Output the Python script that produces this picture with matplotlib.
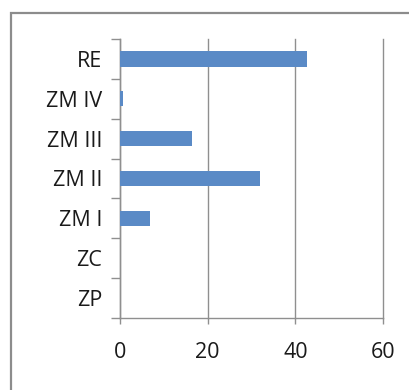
import matplotlib.pyplot as plt
from matplotlib.patches import Rectangle

# categories listed bottom to top
categories = ["ZP", "ZC", "ZM I", "ZM II", "ZM III", "ZM IV", "RE"]
values = [0, 0, 6.9, 32.0, 16.4, 0.6, 42.6]
x_ticks = [0, 20, 40, 60]

W, H = 409, 390
fig = plt.figure(figsize=(W / 100, H / 100), dpi=100)
plt.rcParams['font.family'] = ['Open Sans', 'DejaVu Sans']

# outer frame (only top and left edges visible)
fig.patches.append(Rectangle((11 / W, -0.1), 1.2, 1 - 13 / H + 0.1,
                             transform=fig.transFigure, fill=False,
                             edgecolor="#8c8c8c", linewidth=1.6))

ax = fig.add_axes([120 / W, 1 - 318 / H, (383 - 120) / W, (318 - 39) / H])
ypos = list(range(len(categories)))
ax.barh(ypos, values, height=0.38, color="#5a8ac6", edgecolor="none",
        zorder=3)

ax.set_xlim(0, 60)
ax.set_ylim(-0.5, len(categories) - 0.5)
ax.set_xticks(x_ticks)
ax.set_yticks(ypos)
ax.set_yticklabels(categories)
ax.set_yticks([i - 0.5 for i in range(len(categories) + 1)], minor=True)

ax.grid(axis="x", color="#8f8f8f", linewidth=1.0, zorder=0)
for line in ax.get_xgridlines():
    line.set_clip_on(False)
for s in ["top", "right"]:
    ax.spines[s].set_visible(False)
for s in ["left", "bottom"]:
    ax.spines[s].set_color("#8f8f8f")
    ax.spines[s].set_linewidth(1.0)

ax.tick_params(axis="y", which="major", length=0, pad=13, labelsize=15.5,
               labelcolor="#1a1a1a")
ax.tick_params(axis="y", which="minor", length=6.5, width=1.0, color="#8f8f8f")
ax.tick_params(axis="x", length=4.5, width=1.0, color="#8f8f8f", pad=13,
               labelsize=15.5, labelcolor="#1a1a1a")

fig.savefig("out.png", dpi=100)
